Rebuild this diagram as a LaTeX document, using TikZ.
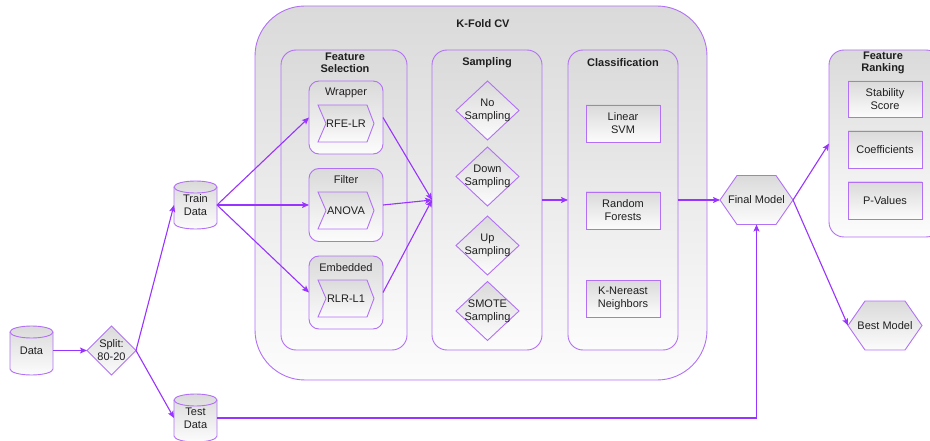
\documentclass[tikz,border=0pt]{standalone}
\usepackage{fontspec}
\setmainfont{Liberation Sans}
\usetikzlibrary{arrows.meta,calc}
\definecolor{pline}{RGB}{153,51,255}
\definecolor{pbord}{RGB}{178,112,246}
\definecolor{gtop}{RGB}{218,218,218}
\definecolor{gbot}{RGB}{252,252,252}
\pgfdeclarelayer{bg}
\pgfdeclarelayer{mid}
\pgfsetlayers{bg,mid,main}
\newcommand\mkcyl[1]{%
\begin{pgfonlayer}{mid}
\path[grad] ($(#1.north west)+(0,-6)$) -- ($(#1.south west)+(0,6)$)
  arc[start angle=180,end angle=360,x radius=21.5,y radius=6]
  -- ($(#1.north east)+(0,-6)$)
  arc[start angle=0,end angle=180,x radius=21.5,y radius=6] -- cycle;
\draw[bline] ($(#1.north west)+(0,-6)$) arc[start angle=180,end angle=360,x radius=21.5,y radius=6];
\end{pgfonlayer}}
\newcommand\mkhex[1]{%
\begin{pgfonlayer}{mid}
\path[grad] (#1.west) -- ($(#1.north west)+(17,0)$) -- ($(#1.north east)+(-17,0)$)
  -- (#1.east) -- ($(#1.south east)+(-17,0)$) -- ($(#1.south west)+(17,0)$) -- cycle;
\end{pgfonlayer}}
\newcommand\mkdia[1]{%
\begin{pgfonlayer}{mid}
\path[grad] (#1.west) -- (#1.north) -- (#1.east) -- (#1.south) -- cycle;
\end{pgfonlayer}}
\newcommand\mkchev[1]{%
\begin{pgfonlayer}{mid}
\path[grad] (#1.north west) -- ($(#1.north east)+(-7,0)$) -- (#1.east)
  -- ($(#1.south east)+(-7,0)$) -- (#1.south west) -- ($(#1.west)+(8,0)$) -- cycle;
\end{pgfonlayer}}
\begin{document}
\begin{tikzpicture}[x=1pt,y=1pt,
  font=\fontsize{11}{13}\selectfont,
  grad/.style={top color=gtop,bottom color=gbot,draw=pbord,line width=0.9pt},
  bline/.style={draw=pbord,line width=0.9pt},
  group/.style={grad,rounded corners=#1,inner sep=0pt,outer sep=0pt},
  hold/.style={inner sep=0pt,outer sep=0pt,align=center,text=black!88},
  ttl/.style={hold,font=\fontsize{11}{12.5}\selectfont\bfseries},
  rbox/.style={grad,hold,minimum width=74,minimum height=37},
  conn/.style={draw=pline,line width=1.1pt,-{Stealth[length=7pt,width=6pt,inset=1.5pt]}},
]
\useasboundingbox (0,0) rectangle (930,-441);

% group boxes
\begin{pgfonlayer}{bg}
\node[group=50, minimum width=452, minimum height=374] (kfold) at (481,-193) {};
\node[group=15, minimum width=126, minimum height=300] (fsel) at (344,-200) {};
\node[group=10, minimum width=74, minimum height=73] (wrap) at (346,-117.5) {};
\node[group=10, minimum width=74, minimum height=73] (filt) at (346,-205) {};
\node[group=10, minimum width=74, minimum height=73] (emb) at (346,-292.5) {};
\node[group=15, minimum width=110, minimum height=300] (samp) at (487,-200) {};
\node[group=15, minimum width=110, minimum height=300] (clas) at (623,-200) {};
\node[group=15, minimum width=112, minimum height=187] (rank) at (885,-143.5) {};
\end{pgfonlayer}

% titles
\node[ttl] (kfoldt) at (483,-24) {K-Fold CV};
\node[ttl] (fselt) at (345,-63) {Feature\\Selection};
\node[hold] (wrapt) at (346,-93) {Wrapper};
\node[hold] (filtt) at (346,-180) {Filter};
\node[hold] (embt) at (346,-268) {Embedded};
\node[ttl] (sampt) at (487,-63) {Sampling};
\node[ttl] (clast) at (623,-63) {Classification};
\node[ttl] (rankt) at (883,-63) {Feature\\Ranking};

% chevrons
\node[hold, minimum width=56, minimum height=37] (rfe) at (346,-123.5) {RFE-LR};
\mkchev{rfe}
\node[hold, minimum width=56, minimum height=37] (anova) at (346,-210.5) {ANOVA};
\mkchev{anova}
\node[hold, minimum width=56, minimum height=37] (rlr) at (346,-298.5) {RLR-L1};
\mkchev{rlr}

% sampling diamonds
\node[hold, minimum width=63, minimum height=59] (nos) at (487.5,-110.5) {No\\Sampling};
\mkdia{nos}
\node[hold, minimum width=63, minimum height=59] (down) at (487.5,-176.5) {Down\\Sampling};
\mkdia{down}
\node[hold, minimum width=63, minimum height=59] (up) at (487.5,-245.5) {Up\\Sampling};
\mkdia{up}
\node[hold, minimum width=63, minimum height=59] (smote) at (487.5,-311) {SMOTE\\Sampling};
\mkdia{smote}

% classifiers
\node[rbox] (svm) at (623,-123.5) {Linear\\SVM};
\node[rbox] (rf) at (623,-210.5) {Random\\Forests};
\node[rbox] (knn) at (623,-298.5) {K-Nereast\\Neighbors};

% ranking
\node[rbox, minimum height=36] (stab) at (885,-99) {Stability\\Score};
\node[rbox] (coef) at (885,-149.5) {Coefficients};
\node[rbox] (pval) at (885,-200.5) {P-Values};

% data cylinders
\node[hold, minimum width=43, minimum height=49] (data) at (31.5,-350.5) {Data};
\mkcyl{data}
\node[hold, minimum width=43, minimum height=48] (train) at (195.5,-205) {Train\\Data};
\mkcyl{train}
\node[hold, minimum width=43, minimum height=48] (test) at (195.5,-418) {Test\\Data};
\mkcyl{test}

% split
\node[hold, minimum width=49, minimum height=49] (split) at (111.5,-350.5) {Split:\\80-20};
\mkdia{split}

% hexagons
\node[hold, minimum width=73, minimum height=49] (final) at (756.5,-200) {Final Model};
\mkhex{final}
\node[hold, minimum width=74, minimum height=49] (best) at (885,-325.5) {Best Model};
\mkhex{best}

% connectors
\draw[conn] (data.east) -- (split.west);
\draw[conn] (split.east) -- (train.west);
\draw[conn] (split.east) -- (test.west);
\draw[conn] (train.east) -- (wrap.west);
\draw[conn] (train.east) -- (filt.west);
\draw[conn] (train.east) -- (emb.west);
\draw[conn] (wrap.east) -- (samp.west);
\draw[conn] (filt.east) -- (samp.west);
\draw[conn] (emb.east) -- (samp.west);
\draw[conn] (samp.east) -- (clas.west);
\draw[conn] (clas.east) -- (final.west);
\draw[conn] (final.east) -- (rank.west);
\draw[conn] (final.east) -- (best.west);
\draw[conn] (test.east) -| (final.south);
\end{tikzpicture}
\end{document}
